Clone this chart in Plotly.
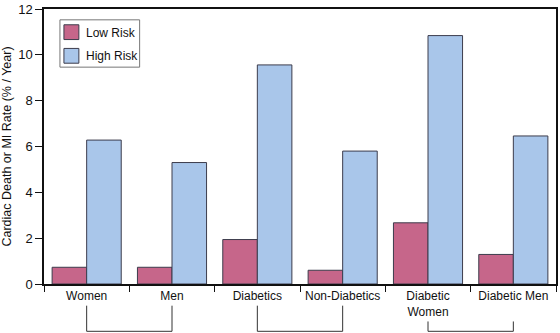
import plotly.graph_objects as go

categories = ["Women", "Men", "Diabetics", "Non-Diabetics", "Diabetic<br>Women", "Diabetic Men"]
low_risk = [0.73, 0.73, 1.94, 0.60, 2.67, 1.29]
high_risk = [6.28, 5.30, 9.56, 5.80, 10.84, 6.46]
series_names = ["Low Risk", "High Risk"]
series_colors = ["#C6668A", "#A9C6EA"]
y_ticks = [0, 2, 4, 6, 8, 10, 12]
bracket_pairs = [(0, 1, 306), (2, 3, 306), (4, 5, 322)]

W, H = 560, 333
ml, mr, mt, mb = 44, 2, 5, 49
pw = W - ml - mr
ph = H - mt - mb

def py(pix):
    return (H - mb - pix) / ph

def px(pix):
    return (pix - ml) / pw

edge = "#3c3c4c"
fig = go.Figure()
for name, vals, col in zip(series_names, [low_risk, high_risk], series_colors):
    fig.add_trace(go.Bar(x=categories, y=vals, name=name, showlegend=False,
                         marker=dict(color=col, line=dict(color=edge, width=1))))

shapes = []
for a, b, top in bracket_pairs:
    ca, cb = categories[a], categories[b]
    for c in (ca, cb):
        shapes.append(dict(type="line", xref="x", yref="paper", x0=c, x1=c,
                           y0=py(top), y1=py(332), line=dict(color="#333", width=1)))
    shapes.append(dict(type="line", xref="x", yref="paper", x0=ca, x1=cb,
                       y0=py(332), y1=py(332), line=dict(color="#333", width=1)))

# manual legend
shapes.append(dict(type="rect", xref="paper", yref="paper",
                   x0=px(60), x1=px(140), y0=py(64), y1=py(16),
                   line=dict(color="#777", width=1), fillcolor="white"))
annotations = []
for i, (name, col) in enumerate(zip(series_names, series_colors)):
    top = 21 + i * 24
    shapes.append(dict(type="rect", xref="paper", yref="paper",
                       x0=px(64), x1=px(79), y0=py(top + 15), y1=py(top),
                       line=dict(color=edge, width=1), fillcolor=col))
    annotations.append(dict(xref="paper", yref="paper", x=px(84), y=py(top + 8),
                            xanchor="left", yanchor="middle", text=name,
                            showarrow=False, font=dict(size=12)))

fig.update_layout(
    width=W, height=H,
    margin=dict(l=ml, r=mr, t=mt, b=mb),
    paper_bgcolor="white", plot_bgcolor="white",
    font=dict(family="Liberation Sans, Arial, sans-serif", size=12, color="#111"),
    barmode="group", bargap=0.19, bargroupgap=0,
    showlegend=False,
    shapes=shapes, annotations=annotations,
    xaxis=dict(type="category", tickson="boundaries", ticks="outside", ticklen=6,
               tickcolor="#111", showline=True, linecolor="#111", linewidth=1.5,
               mirror=True, showgrid=False, tickfont=dict(size=12)),
    yaxis=dict(range=[0, 12], tickvals=y_ticks, ticks="outside", ticklen=7,
               tickcolor="#111", showline=True, linecolor="#111", linewidth=1.5,
               mirror=True, showgrid=False, zeroline=False, tickfont=dict(size=13),
               ticklabeloverflow="allow",
               title=dict(text="Cardiac Death or MI Rate (% / Year)", font=dict(size=12.5), standoff=5)),
)

fig.write_html("out.html")
